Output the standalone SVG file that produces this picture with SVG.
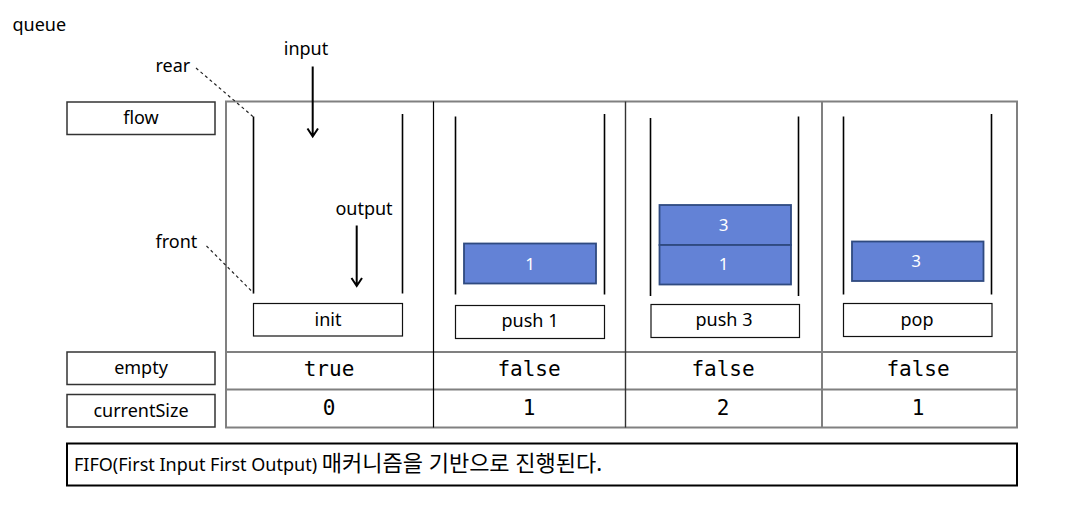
<svg xmlns="http://www.w3.org/2000/svg" width="1081" height="518" viewBox="0 0 1081 518">
<style>
text{font-family:"Noto Sans","Noto Sans CJK KR",sans-serif;font-size:18px;fill:#000}
.c{text-anchor:middle}
.mono{font-family:"DejaVu Sans Mono","Liberation Mono",monospace;font-size:21px;text-anchor:middle}
.lbl{fill:#fff;stroke:#333;stroke-width:1.5}
.box{fill:#fff;stroke:#111;stroke-width:1.2}
.wall{stroke:#000;stroke-width:1.6}
.blk{fill:#6382d6;stroke:#2f4a80;stroke-width:1.8}
.num{fill:#fff;text-anchor:middle;font-size:17px}
.grid{stroke:#808080;stroke-width:2;fill:none}
.dash{stroke:#222;stroke-width:1.2;stroke-dasharray:3,3;fill:none}
.arr{stroke:#000;stroke-width:2;fill:none}
.ko{font-size:22px}
</style>
<rect width="1081" height="518" fill="#fff"/>
<text x="12.5" y="30.5">queue</text>

<g id="table">
<rect class="grid" x="226" y="101.5" width="791" height="326"/>
<line class="grid" x1="226" y1="352" x2="1017" y2="352"/>
<line class="grid" x1="226" y1="389.5" x2="1017" y2="389.5"/>
<line x1="433.5" y1="101.5" x2="433.5" y2="427.5" stroke="#000" stroke-width="1.2"/>
<line x1="625.5" y1="101.5" x2="625.5" y2="427.5" stroke="#333" stroke-width="1.4"/>
<line class="grid" x1="822" y1="101.5" x2="822" y2="427.5"/>
</g>

<g id="flow-label"><rect class="lbl" x="67" y="102" width="148" height="32.5"/><text class="c" x="141" y="124">flow</text></g>
<g id="empty-label"><rect class="lbl" x="67" y="352" width="148" height="32.5"/><text class="c" x="141" y="374">empty</text></g>
<g id="size-label"><rect class="lbl" x="67" y="394.5" width="148" height="32.5"/><text class="c" x="141" y="416.5">currentSize</text></g>

<g id="col-init">
<line class="wall" x1="253.5" y1="116.5" x2="253.5" y2="293.5"/>
<line class="wall" x1="402.5" y1="114" x2="402.5" y2="293.5"/>
<rect class="box" x="253.5" y="303.5" width="149" height="32.5"/>
<text class="c" x="328" y="326">init</text>
<text class="mono" x="329" y="376">true</text>
<text class="mono" x="329" y="415">0</text>
</g>

<g id="col-push1">
<line class="wall" x1="455.5" y1="116.5" x2="455.5" y2="294.5"/>
<line class="wall" x1="604.5" y1="114" x2="604.5" y2="294.5"/>
<rect class="blk" x="464" y="243.5" width="132" height="40"/>
<text class="num" x="530" y="270">1</text>
<rect class="box" x="455.5" y="305.5" width="149" height="33"/>
<text class="c" x="530" y="327">push 1</text>
<text class="mono" x="529" y="376">false</text>
<text class="mono" x="529" y="415">1</text>
</g>

<g id="col-push3">
<line class="wall" x1="650.5" y1="118" x2="650.5" y2="296"/>
<line class="wall" x1="798.5" y1="116.5" x2="798.5" y2="296"/>
<rect class="blk" x="659.5" y="205" width="131.5" height="40"/>
<text class="num" x="723.5" y="231">3</text>
<rect class="blk" x="659.5" y="245" width="131.5" height="39.5"/>
<text class="num" x="723.5" y="270">1</text>
<rect class="box" x="651" y="304.5" width="148.5" height="33"/>
<text class="c" x="724" y="326">push 3</text>
<text class="mono" x="723" y="376">false</text>
<text class="mono" x="723" y="415">2</text>
</g>

<g id="col-pop">
<line class="wall" x1="843.5" y1="116.5" x2="843.5" y2="294.5"/>
<line class="wall" x1="991.5" y1="114" x2="991.5" y2="294.5"/>
<rect class="blk" x="852" y="241.5" width="131.5" height="39.5"/>
<text class="num" x="916" y="267">3</text>
<rect class="box" x="843.5" y="303.5" width="148.5" height="33"/>
<text class="c" x="917" y="326">pop</text>
<text class="mono" x="918" y="376">false</text>
<text class="mono" x="918" y="415">1</text>
</g>

<g id="annotations">
<text x="155.5" y="71.5">rear</text>
<text x="155.5" y="247.5">front</text>
<text class="c" x="306" y="54.5">input</text>
<text class="c" x="364" y="215">output</text>
</g>

<g id="connectors">
<path class="dash" d="M196,68 L253.5,117"/>
<path class="dash" d="M206.5,246 L253.5,293"/>
<path class="arr" d="M312.7,66.5 V136.5 M307.5,128.5 L312.7,136.5 L318,128.5"/>
<path class="arr" d="M356.7,225.5 V286 M351.5,278 L356.7,286 L362,278"/>
</g>

<g id="footer">
<rect x="67" y="443.5" width="950" height="42" fill="#fff" stroke="#000" stroke-width="2"/>
<text x="74" y="470.5">FIFO(First Input First Output) <tspan class="ko">매커니즘을 기반으로 진행된다.</tspan></text>
</g>
</svg>
